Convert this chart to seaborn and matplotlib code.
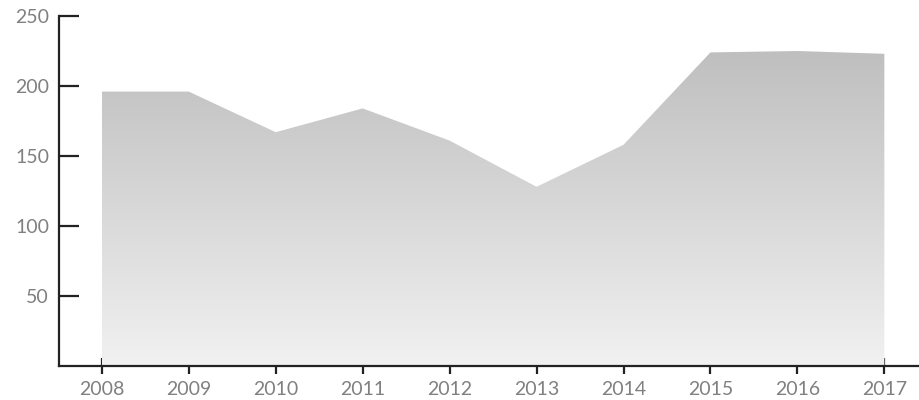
import numpy as np
import pandas as pd
import matplotlib
matplotlib.use("Agg")
import matplotlib.pyplot as plt
import seaborn as sns
from matplotlib.colors import LinearSegmentedColormap

years = [2008, 2009, 2010, 2011, 2012, 2013, 2014, 2015, 2016, 2017]
values = [196, 196, 167, 184, 161, 128, 158, 224, 225, 223]
y_ticks = [50, 100, 150, 200, 250]

sns.set_style("white")
plt.rcParams['font.family'] = ['Lato', 'DejaVu Sans']

df = pd.DataFrame({"year": years, "value": values})

fig = plt.figure(figsize=(9.2, 4), dpi=100)
ax = fig.add_axes([0.064, 0.085, 0.936, 0.875])

sns.lineplot(data=df, x="year", y="value", ax=ax, linewidth=0, color="#bdbdbd")
poly = ax.fill_between(df["year"], 0, df["value"], facecolor="none", edgecolor="none")

cmap = LinearSegmentedColormap.from_list("g", ["#f1f1f1", "#bfbfbf"])
grad = np.linspace(0, 1, 256).reshape(-1, 1)
ymax = max(values)
img = ax.imshow(grad, cmap=cmap, aspect="auto", origin="lower",
                extent=[years[0], years[-1], 0, ymax], zorder=1)
img.set_clip_path(poly.get_paths()[0], transform=ax.transData)

ax.set_xlim(2007.506, 2017.41)
ax.set_ylim(0, 250)
ax.set_xticks(years)
ax.set_xticklabels([str(y) for y in years])
ax.set_yticks(y_ticks)
ax.set_xlabel("")
ax.set_ylabel("")

for s in ["top", "right"]:
    ax.spines[s].set_visible(False)
for s in ["left", "bottom"]:
    ax.spines[s].set_color("#222222")
    ax.spines[s].set_linewidth(1.6)

ax.tick_params(axis="y", direction="in", length=14.5, width=1.6, color="#222222",
               labelsize=14, labelcolor="#808080", pad=7, left=True)
ax.tick_params(axis="x", direction="inout", length=12, width=1.6, color="#222222",
               labelsize=14, labelcolor="#808080", pad=5, bottom=True)

fig.savefig("out.png", dpi=100)
